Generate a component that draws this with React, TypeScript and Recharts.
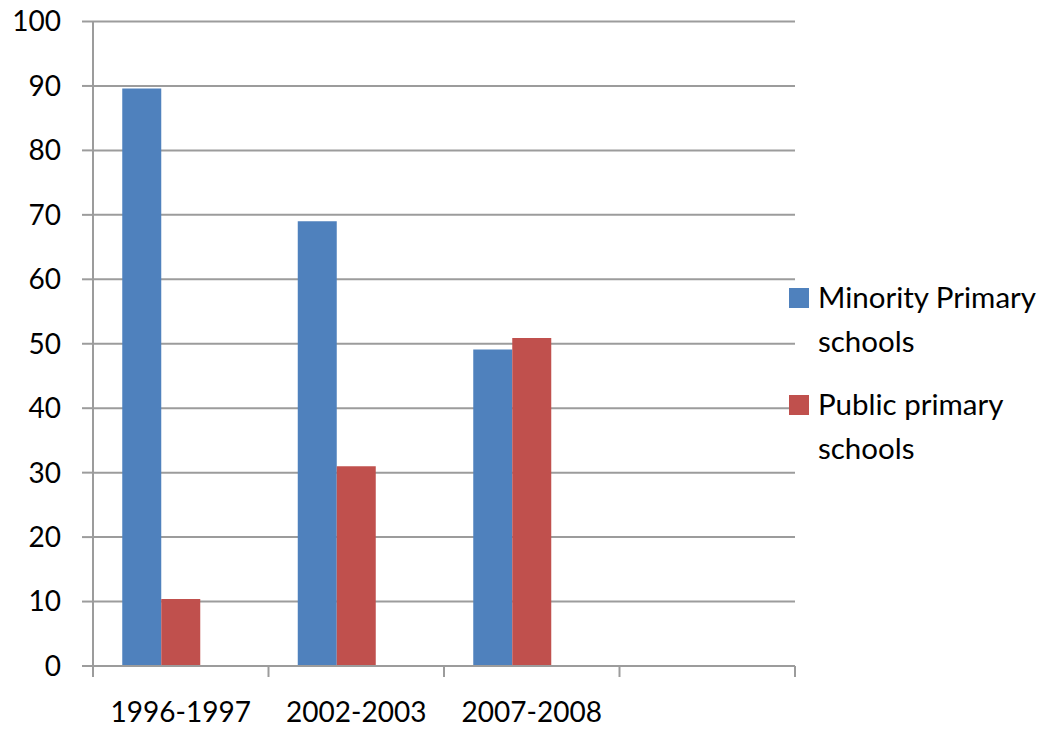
import React from 'react';
import { BarChart, Bar, XAxis, YAxis, CartesianGrid, Legend } from 'recharts';

// School-year periods (the fourth slot is left blank on the axis)
const periods = ['1996-1997', '2002-2003', '2007-2008', ''];
// Share of pupils (%) by school type
const minorityShare: (number | null)[] = [89.6, 69, 49.1, null];
const publicShare: (number | null)[] = [10.4, 31, 50.9, null];
const yTicks = [0, 10, 20, 30, 40, 50, 60, 70, 80, 90, 100];

const seriesNames = ['Minority Primary schools', 'Public primary schools'];
const seriesColors = ['#4F81BD', '#C0504D'];

const data = periods.map((period, i) => ({
  period,
  minority: minorityShare[i],
  public: publicShare[i],
}));

const WIDTH = 1052;
const HEIGHT = 730;
const Y_AXIS_W = 93;
const LEGEND_W = 257;
const FONT = 'Lato, "Open Sans", sans-serif';
const AXIS_GRAY = '#9c9c9c';
const TICK_SIZE = 11;
const X_TICK_MARGIN = 25;
const PLOT_W = WIDTH - Y_AXIS_W - LEGEND_W;

function PeriodTick(props: any) {
  const { x, y, payload, index } = props;
  const half = payload && payload.offset ? payload.offset : PLOT_W / periods.length / 2;
  const lineTop = y - X_TICK_MARGIN - TICK_SIZE;
  const lineBottom = y - X_TICK_MARGIN;
  return (
    <g>
      <line x1={x - half} x2={x - half} y1={lineTop} y2={lineBottom} stroke={AXIS_GRAY} strokeWidth={2} />
      {index === periods.length - 1 && (
        <line x1={x + half} x2={x + half} y1={lineTop} y2={lineBottom} stroke={AXIS_GRAY} strokeWidth={2} />
      )}
      <text x={x} y={y} dy="0.71em" textAnchor="middle" fill="#000" fontSize={28} fontFamily={FONT}>
        {payload.value}
      </text>
    </g>
  );
}

function SchoolLegend(props: any) {
  const items = (props.payload || []).filter((p: any) => p.type !== 'none');
  return (
    <div style={{ marginLeft: -6, fontFamily: FONT }}>
      {items.map((item: any) => (
        <div key={item.value} style={{ display: 'flex', alignItems: 'flex-start', marginBottom: 19 }}>
          <div
            style={{
              width: 20,
              height: 20,
              background: item.color,
              marginTop: 13,
              marginRight: 9,
              flex: 'none',
            }}
          />
          <div style={{ fontSize: 29.5, lineHeight: '44px', color: '#000', width: 234 }}>{item.value}</div>
        </div>
      ))}
    </div>
  );
}

export default function App() {
  return (
    <div style={{ width: WIDTH, height: HEIGHT, background: '#fff' }}>
      <style>{'body{margin:0;overflow:hidden;background:#fff}'}</style>
      <BarChart
        width={WIDTH}
        height={HEIGHT}
        data={data}
        margin={{ top: 21.5, right: 0, bottom: 0, left: 0 }}
        barGap={0}
        barCategoryGap="16.67%"
      >
        <CartesianGrid vertical={false} stroke={AXIS_GRAY} strokeWidth={2} />
        <XAxis
          dataKey="period"
          height={64}
          interval={0}
          tickLine={false}
          tickSize={TICK_SIZE}
          tickMargin={X_TICK_MARGIN}
          axisLine={{ stroke: AXIS_GRAY, strokeWidth: 2 }}
          tick={<PeriodTick />}
        />
        <YAxis
          width={Y_AXIS_W}
          domain={[0, 100]}
          ticks={yTicks}
          interval={0}
          tickSize={TICK_SIZE}
          tickMargin={21}
          axisLine={{ stroke: AXIS_GRAY, strokeWidth: 2 }}
          tickLine={{ stroke: AXIS_GRAY, strokeWidth: 2 }}
          tick={{ fill: '#000', fontSize: 28, fontFamily: FONT }}
        />
        <Legend
          layout="vertical"
          align="right"
          verticalAlign="top"
          wrapperStyle={{ top: 275, right: 0, width: LEGEND_W }}
          content={<SchoolLegend />}
        />
        <Bar dataKey="minority" name={seriesNames[0]} fill={seriesColors[0]} isAnimationActive={false} />
        <Bar dataKey="public" name={seriesNames[1]} fill={seriesColors[1]} isAnimationActive={false} />
        {/* empty third series slot keeps the Excel-style bar spacing */}
        <Bar dataKey="other" legendType="none" fill="#9BBB59" isAnimationActive={false} />
      </BarChart>
    </div>
  );
}
